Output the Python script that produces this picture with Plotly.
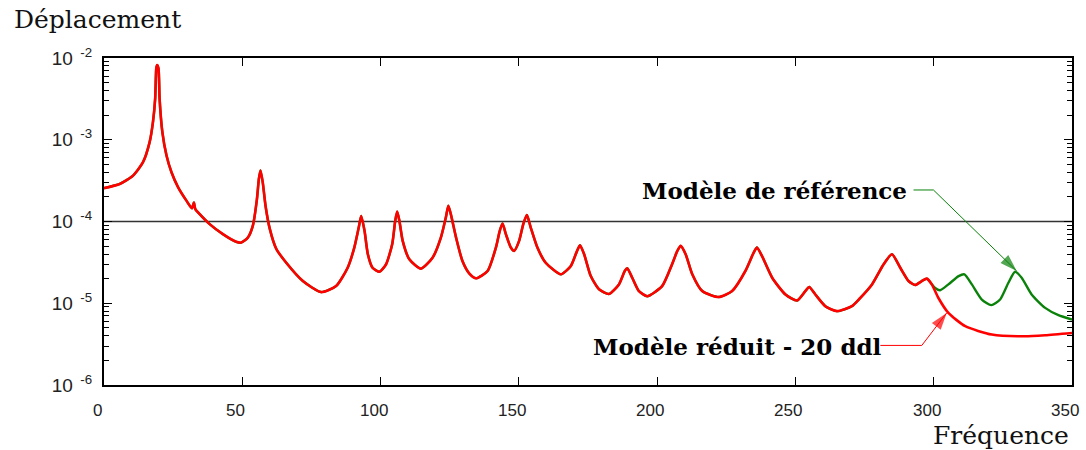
import plotly.graph_objects as go

# ---- data (frequency, displacement) ----
freq_common = [0, 5.7, 10.5, 14.1, 16.5, 17.7, 18.5, 18.9, 19.2, 19.7, 20.1, 21.1, 22.6, 24.4,
               26.8, 29.8, 31.8, 32.5, 33.0, 34.6, 38.2, 43, 47.8, 49.6, 52, 53.8, 55.3, 56,
               56.6, 57.4, 58.4, 59.9, 62.3, 65.9, 71.9, 78.5, 83.9, 88.1, 90.5, 92.1, 93.0,
               94.2, 95.4, 97.1, 99.6, 102, 104.2, 105.3, 106, 106.8, 108, 110.4, 114.6, 118.8,
               121.8, 123.6, 124.5, 125.4, 127.3, 129.6, 132.1, 134.5, 138.7, 141.7, 143.1,
               144.1, 145.3, 147.1, 148.3, 150.1, 151.6, 152.9, 154.3, 156.7, 159.7, 165.2,
               168.8, 170.8, 172.1, 173.6, 176, 179, 182.6, 186.2, 188.3, 189.2, 191, 193.4,
               196.4, 201.8, 205.4, 207.3, 208.5, 210.3, 212.7, 216.3, 222.3, 227.1, 231.9,
               234.9, 236.1, 237.9, 241.6, 246.4, 250.6, 253.6, 255, 257.2, 260.8, 265, 270.4,
               273, 277.7, 281.9, 284.9, 287.9, 290.9, 293.3, 295.7, 297.5]
disp_common = [2.56e-4, 2.88e-4, 3.64e-4, 5.31e-4, 9.35e-4, 1.64e-3, 3.19e-3, 7.45e-3, 8.18e-3,
               7.45e-3, 3.19e-3, 1.24e-3, 6.41e-4, 4.0e-4, 2.62e-4, 1.80e-4, 1.45e-4, 1.71e-4,
               1.42e-4, 1.23e-4, 9.29e-5, 7.0e-5, 5.64e-5, 5.52e-5, 6.35e-5, 8.85e-5, 1.88e-4,
               3.32e-4, 4.20e-4, 3.01e-4, 1.56e-4, 8.24e-5, 4.62e-5, 3.13e-5, 1.87e-5, 1.37e-5,
               1.62e-5, 2.72e-5, 4.80e-5, 8.43e-5, 1.17e-4, 7.69e-5, 3.98e-5, 2.72e-5, 2.43e-5,
               3.0e-5, 5.27e-5, 1.02e-4, 1.32e-4, 1.02e-4, 5.79e-5, 3.45e-5, 2.65e-5, 3.61e-5,
               6.35e-5, 1.12e-4, 1.56e-4, 1.23e-4, 6.35e-5, 3.29e-5, 2.31e-5, 2.02e-5, 2.48e-5,
               4.80e-5, 7.69e-5, 9.45e-5, 7.0e-5, 4.8e-5, 4.37e-5, 5.79e-5, 9.29e-5, 1.20e-4,
               8.43e-5, 4.8e-5, 3.13e-5, 2.26e-5, 2.86e-5, 4.16e-5, 5.13e-5, 3.98e-5, 2.15e-5,
               1.48e-5, 1.30e-5, 1.70e-5, 2.48e-5, 2.68e-5, 2.05e-5, 1.41e-5, 1.22e-5, 1.62e-5,
               3.0e-5, 4.37e-5, 5.03e-5, 3.98e-5, 2.26e-5, 1.41e-5, 1.19e-5, 1.41e-5, 2.48e-5,
               4.16e-5, 4.80e-5, 3.79e-5, 2.05e-5, 1.28e-5, 1.08e-5, 1.41e-5, 1.58e-5, 1.28e-5,
               9.2e-6, 8.0e-6, 9.2e-6, 1.12e-5, 1.70e-5, 3.0e-5, 3.98e-5, 2.72e-5, 1.87e-5,
               1.67e-5, 1.87e-5, 2.0e-5]

# reference model (green) beyond 297.5
freq_ref_tail = [300.4, 302.3, 305.3, 309, 311.1, 313.8, 317.4, 320.8, 324, 327, 329.4, 331.8,
                 335.4, 340.3, 345.1, 350]
disp_ref_tail = [1.55e-5, 1.44e-5, 1.70e-5, 2.15e-5, 2.26e-5, 1.70e-5, 1.11e-5, 9.48e-6, 1.11e-5,
                 1.78e-5, 2.43e-5, 2.05e-5, 1.28e-5, 8.77e-6, 7.14e-6, 6.32e-6]

# reduced model (red) beyond 297.5
freq_red_tail = [299.3, 301.7, 305.3, 311.4, 321, 333, 340.3, 350]
disp_red_tail = [1.70e-5, 1.16e-5, 7.62e-6, 5.24e-6, 4.14e-6, 3.94e-6, 4.06e-6, 4.33e-6]

ref_level = 1e-4
x_ticks = [0, 50, 100, 150, 200, 250, 300, 350]
y_exponents = [-6, -5, -4, -3, -2]

label_ref = "Modèle de référence"
label_red = "Modèle réduit - 20 ddl"

# leader lines (label end -> elbow -> arrow tip), in data units
lead_ref_x = [292.7, 299.9, 330.0]
lead_ref_y = [2.43e-4, 2.43e-4, 2.48e-5]
lead_red_x = [280.7, 295.7, 304.7]
lead_red_y = [3.05e-6, 3.05e-6, 7.62e-6]

GREEN = "#0a820a"
RED = "#ff0000"

fig = go.Figure()

# horizontal reference line at 1e-4
fig.add_trace(go.Scatter(x=[x_ticks[0], x_ticks[-1]], y=[ref_level, ref_level], mode="lines",
                         line=dict(color="#333333", width=1.3), hoverinfo="skip", showlegend=False))

fig.add_trace(go.Scatter(x=freq_common + freq_ref_tail, y=disp_common + disp_ref_tail,
                         mode="lines", line=dict(color=GREEN, width=2.4, shape="spline", smoothing=0.6),
                         name=label_ref, showlegend=False))
fig.add_trace(go.Scatter(x=freq_common + freq_red_tail, y=disp_common + disp_red_tail,
                         mode="lines", line=dict(color=RED, width=2.6, shape="spline", smoothing=0.6),
                         name=label_red, showlegend=False))

# leader lines with arrow heads
for lx, ly, col in [(lead_ref_x, lead_ref_y, GREEN), (lead_red_x, lead_red_y, RED)]:
    fig.add_trace(go.Scatter(x=lx, y=ly, mode="lines+markers",
                             line=dict(color=col, width=1),
                             marker=dict(symbol="arrow", size=[0, 0, 18], angleref="previous",
                                         color=col, line=dict(width=0)),
                             hoverinfo="skip", showlegend=False))

minor_vals = [m * 10.0 ** e for e in y_exponents[:-1] for m in range(2, 10)]

fig.update_layout(
    width=1086, height=450,
    margin=dict(l=104, r=12, t=58, b=65),
    paper_bgcolor="white", plot_bgcolor="white",
    font=dict(family="Liberation Sans, Arial, sans-serif", size=17, color="#222222"),
    xaxis=dict(range=[0, 350], tickvals=x_ticks, showticklabels=False,
               ticks="inside", ticklen=8, tickwidth=1.3, tickcolor="black",
               showline=True, linewidth=2.2, linecolor="black", mirror="allticks",
               showgrid=False, zeroline=False),
    yaxis=dict(type="log", range=[-6, -2],
               tickvals=[10.0 ** e for e in y_exponents],
               ticktext=["10<sup>  %d</sup>" % e for e in y_exponents],
               tickfont=dict(size=19),
               ticks="inside", ticklen=8, tickwidth=1.3, tickcolor="black",
               minor=dict(tickvals=minor_vals, ticks="inside", ticklen=5, tickwidth=1, tickcolor="black"),
               showline=True, linewidth=2.2, linecolor="black", mirror="allticks",
               showgrid=False, zeroline=False, ticklabelstandoff=6),
)

# x tick labels (slightly left of their ticks, as in the reference)
for v in x_ticks:
    fig.add_annotation(text=str(v), x=v, xref="x", y=0, yref="paper", yshift=-25, xshift=-7,
                       xanchor="center", yanchor="middle", showarrow=False,
                       font=dict(size=17, color="#222222"))

serif = "DejaVu Serif, serif"
fig.add_annotation(text="Déplacement", xref="paper", yref="paper", x=-0.095, y=1.118,
                   xanchor="left", yanchor="middle", showarrow=False,
                   font=dict(family=serif, size=25, color="#111111"))
fig.add_annotation(text="Fréquence", xref="paper", yref="paper", x=0.999, y=-0.153,
                   xanchor="right", yanchor="middle", showarrow=False,
                   font=dict(family=serif, size=25, color="#111111"))

# curve labels
fig.add_annotation(text="<b>" + label_ref + "</b>", x=291.0, y=-3.623, xref="x", yref="y",
                   xanchor="right", yanchor="middle", showarrow=False,
                   font=dict(family=serif, size=23, color="black"))
fig.add_annotation(text="<b>" + label_red + "</b>", x=282.0, y=-5.527, xref="x", yref="y",
                   xanchor="right", yanchor="middle", showarrow=False,
                   font=dict(family=serif, size=23, color="black"))

fig.write_html("out.html")
